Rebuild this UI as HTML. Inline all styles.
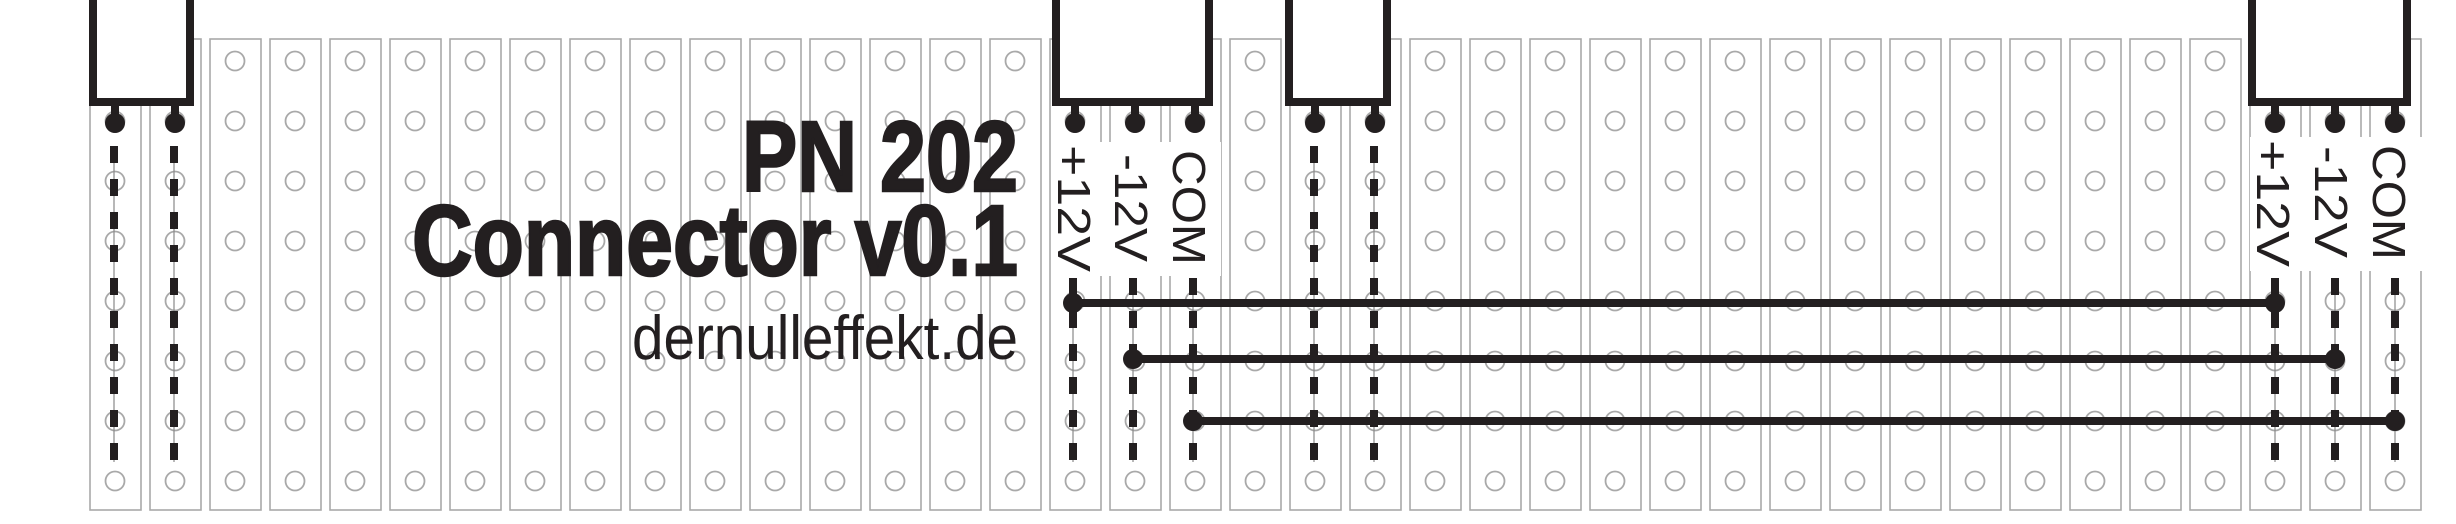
<!DOCTYPE html>
<html><head><meta charset="utf-8"><style>html,body{margin:0;padding:0;background:#fff;width:2456px;height:524px;overflow:hidden}</style></head>
<body>
<svg id="s" xmlns="http://www.w3.org/2000/svg" width="2456" height="524" viewBox="0 0 2456 524">
<g id="strips" fill="#fff" stroke="#a9a9a9" stroke-width="1.6"></g>
<g id="holes" fill="none" stroke="#a9a9a9" stroke-width="1.8"></g>
<rect x="1051" y="142" width="170" height="134" fill="#fff"/>
<rect x="2250" y="137" width="174" height="134" fill="#fff"/>
<g id="wires"></g>
<g fill="#231f20" font-family="Liberation Sans, sans-serif">
<text x="742" y="191" font-size="100" font-weight="bold" stroke="#231f20" stroke-width="2.5" textLength="276" lengthAdjust="spacingAndGlyphs">PN 202</text>
<text x="412" y="275" font-size="100" font-weight="bold" stroke="#231f20" stroke-width="2.5" textLength="606" lengthAdjust="spacingAndGlyphs">Connector v0.1</text>
<text x="632" y="359" font-size="62" textLength="386" lengthAdjust="spacingAndGlyphs">dernulleffekt.de</text>
<g font-size="46">
<text transform="translate(1058,145) rotate(90)" textLength="127" lengthAdjust="spacingAndGlyphs">+12V</text>
<text transform="translate(1115,154) rotate(90)" textLength="108" lengthAdjust="spacingAndGlyphs">-12V</text>
<text transform="translate(1173,150) rotate(90)" textLength="115" lengthAdjust="spacingAndGlyphs">COM</text>
<text transform="translate(2257,140) rotate(90)" textLength="127" lengthAdjust="spacingAndGlyphs">+12V</text>
<text transform="translate(2315,146) rotate(90)" textLength="112" lengthAdjust="spacingAndGlyphs">-12V</text>
<text transform="translate(2373,145) rotate(90)" textLength="115" lengthAdjust="spacingAndGlyphs">COM</text>
</g>
</g>
</svg>
<script>
var NS="http://www.w3.org/2000/svg";
function el(p,t,a){var e=document.createElementNS(NS,t);for(var k in a)e.setAttribute(k,a[k]);document.getElementById(p).appendChild(e);return e;}
for(var i=0;i<39;i++){var c=115+60*i;
 el("strips","rect",{x:c-25,y:39,width:51,height:471});
 for(var j=0;j<8;j++) el("holes","circle",{cx:c,cy:61+60*j,r:9.5});
}
var K="#231f20";
function dashed(x,y1,y2){
 el("wires","line",{x1:x,y1:y1,x2:x,y2:y2,stroke:"#888","stroke-width":1.2});
 el("wires","line",{x1:x,y1:y1,x2:x,y2:y2,stroke:K,"stroke-width":8,"stroke-dasharray":"17 16"});
}
[115,175,1315,1375].forEach(function(x){dashed(x-1,146,462);});
[1073,1133,1193,2275,2335,2395].forEach(function(x){dashed(x,278,462);});
[[93,97],[1056,153],[1289,98],[2252,155]].forEach(function(b){
 el("wires","rect",{x:b[0],y:-10,width:b[1],height:112,fill:"#fff",stroke:K,"stroke-width":8});
});
[115,175,1075,1135,1195,1315,1375,2275,2335,2395].forEach(function(x){
 el("wires","rect",{x:x-4,y:104,width:8,height:15,fill:K});
 el("wires","circle",{cx:x,cy:123,r:10,fill:K});
});
[[1073,2275,303],[1133,2335,359],[1193,2395,421]].forEach(function(h){
 el("wires","line",{x1:h[0],y1:h[2],x2:h[1],y2:h[2],stroke:K,"stroke-width":8});
 el("wires","circle",{cx:h[0],cy:h[2],r:10,fill:K});
 el("wires","circle",{cx:h[1],cy:h[2],r:10,fill:K});
});
</script>
</body></html>
